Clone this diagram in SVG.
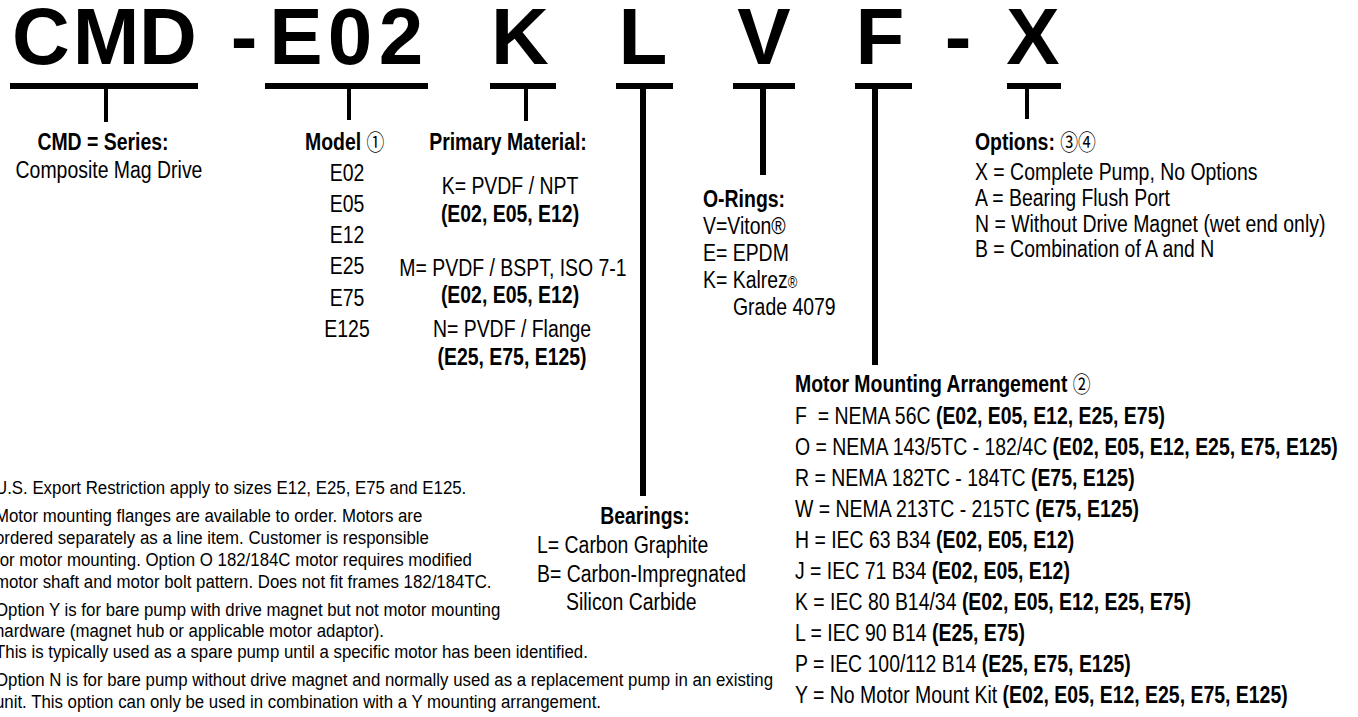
<svg xmlns="http://www.w3.org/2000/svg" width="1358" height="717" viewBox="0 0 1358 717">
<style>
.hdr{font-family:"Liberation Sans",Arial,sans-serif;font-weight:bold;font-size:80px;text-anchor:middle;fill:#000}
.t{font-family:"Liberation Sans",Arial,sans-serif;font-size:24px;fill:#000}
.b{font-weight:bold}
.m{text-anchor:middle}
.n{font-family:"Liberation Sans",Arial,sans-serif;font-size:19px;fill:#000}
.c{font-family:"Noto Sans CJK JP","DejaVu Sans",sans-serif;font-weight:normal;font-size:22px}
.r{font-size:16px}
.bar{fill:#000}
</style>
<rect width="1358" height="717" fill="#fff"/>

<g id="connectors" class="bar">
  <rect x="10" y="83" width="188" height="6"/>
  <rect x="104" y="88" width="4" height="34"/>
  <rect x="265" y="83" width="163" height="6"/>
  <rect x="347" y="88" width="4" height="32"/>
  <rect x="490" y="83" width="66" height="6"/>
  <rect x="524" y="88" width="4" height="33"/>
  <rect x="616" y="83" width="57" height="6"/>
  <rect x="640" y="88" width="6" height="408"/>
  <rect x="733" y="83" width="62" height="6"/>
  <rect x="760" y="88" width="6" height="87"/>
  <rect x="855" y="83" width="57" height="6"/>
  <rect x="872" y="88" width="6" height="277"/>
  <rect x="1007" y="83" width="54" height="6"/>
  <rect x="1025" y="88" width="4" height="31"/>
</g>

<g id="seg-series">
  <text class="hdr" x="41 106 168" y="64">CMD</text>
  <text class="t b m" transform="translate(103,150) scale(0.81,1)">CMD = Series:</text>
  <text class="t m" transform="translate(109,178) scale(0.81,1)">Composite Mag Drive</text>
</g>

<g id="seg-model">
  <text class="hdr" x="244 296 350 401" y="64">-E02</text>
  <text class="t" transform="translate(305,150) scale(0.81,1)"><tspan class="b">Model </tspan><tspan class="c">①</tspan></text>
  <text class="t m" transform="translate(347,181) scale(0.81,1)">E02</text>
  <text class="t m" transform="translate(347,212) scale(0.81,1)">E05</text>
  <text class="t m" transform="translate(347,243) scale(0.81,1)">E12</text>
  <text class="t m" transform="translate(347,274) scale(0.81,1)">E25</text>
  <text class="t m" transform="translate(347,306) scale(0.81,1)">E75</text>
  <text class="t m" transform="translate(347,337) scale(0.81,1)">E125</text>
</g>

<g id="seg-material">
  <text class="hdr" x="520" y="64">K</text>
  <text class="t b m" transform="translate(508,150) scale(0.81,1)">Primary Material:</text>
  <text class="t m" transform="translate(510,194) scale(0.81,1)">K= PVDF / NPT</text>
  <text class="t b m" transform="translate(510,222) scale(0.81,1)">(E02, E05, E12)</text>
  <text class="t m" transform="translate(513,276) scale(0.81,1)">M= PVDF / BSPT, ISO 7-1</text>
  <text class="t b m" transform="translate(510,303) scale(0.81,1)">(E02, E05, E12)</text>
  <text class="t m" transform="translate(512,337) scale(0.81,1)">N= PVDF / Flange</text>
  <text class="t b m" transform="translate(512,365) scale(0.81,1)">(E25, E75, E125)</text>
</g>

<g id="seg-bearings">
  <text class="hdr" x="643" y="64">L</text>
  <text class="t b m" transform="translate(645,524) scale(0.81,1)">Bearings:</text>
  <text class="t" transform="translate(537,553) scale(0.81,1)">L= Carbon Graphite</text>
  <text class="t" transform="translate(537,582) scale(0.81,1)">B= Carbon-Impregnated</text>
  <text class="t" transform="translate(566,610) scale(0.81,1)">Silicon Carbide</text>
</g>

<g id="seg-orings">
  <text class="hdr" x="764" y="64">V</text>
  <text class="t b" transform="translate(703,207) scale(0.81,1)">O-Rings:</text>
  <text class="t" transform="translate(703,234) scale(0.81,1)">V=Viton®</text>
  <text class="t" transform="translate(703,261) scale(0.81,1)">E= EPDM</text>
  <text class="t" transform="translate(703,288) scale(0.81,1)">K= Kalrez<tspan class="r">®</tspan></text>
  <text class="t" transform="translate(733,315) scale(0.81,1)">Grade 4079</text>
</g>

<g id="seg-motor">
  <text class="hdr" x="880" y="64">F</text>
  <text class="t" transform="translate(795,392) scale(0.81,1)"><tspan class="b">Motor Mounting Arrangement </tspan><tspan class="c">②</tspan></text>
  <text class="t" xml:space="preserve" transform="translate(795,424) scale(0.81,1)">F  = NEMA 56C <tspan class="b">(E02, E05, E12, E25, E75)</tspan></text>
  <text class="t" transform="translate(795,455) scale(0.81,1)">O = NEMA 143/5TC - 182/4C <tspan class="b">(E02, E05, E12, E25, E75, E125)</tspan></text>
  <text class="t" transform="translate(795,486) scale(0.81,1)">R = NEMA 182TC - 184TC <tspan class="b">(E75, E125)</tspan></text>
  <text class="t" transform="translate(795,517) scale(0.81,1)">W = NEMA 213TC - 215TC <tspan class="b">(E75, E125)</tspan></text>
  <text class="t" transform="translate(795,548) scale(0.81,1)">H = IEC 63 B34 <tspan class="b">(E02, E05, E12)</tspan></text>
  <text class="t" transform="translate(795,579) scale(0.81,1)">J = IEC 71 B34 <tspan class="b">(E02, E05, E12)</tspan></text>
  <text class="t" transform="translate(795,610) scale(0.81,1)">K = IEC 80 B14/34 <tspan class="b">(E02, E05, E12, E25, E75)</tspan></text>
  <text class="t" transform="translate(795,641) scale(0.81,1)">L = IEC 90 B14 <tspan class="b">(E25, E75)</tspan></text>
  <text class="t" transform="translate(795,672) scale(0.81,1)">P = IEC 100/112 B14 <tspan class="b">(E25, E75, E125)</tspan></text>
  <text class="t" transform="translate(795,703) scale(0.81,1)">Y = No Motor Mount Kit <tspan class="b">(E02, E05, E12, E25, E75, E125)</tspan></text>
</g>

<g id="seg-options">
  <text class="hdr" x="958 1033" y="64">-X</text>
  <text class="t" transform="translate(975,150) scale(0.81,1)"><tspan class="b">Options: </tspan><tspan class="c">③④</tspan></text>
  <text class="t" transform="translate(975,180) scale(0.81,1)">X = Complete Pump, No Options</text>
  <text class="t" transform="translate(975,206) scale(0.81,1)">A = Bearing Flush Port</text>
  <text class="t" transform="translate(975,232) scale(0.81,1)">N = Without Drive Magnet (wet end only)</text>
  <text class="t" transform="translate(975,257) scale(0.81,1)">B = Combination of A and N</text>
</g>

<g id="notes">
  <text class="n" transform="translate(-5,494) scale(0.886,1)">U.S. Export Restriction apply to sizes E12, E25, E75 and E125.</text>
  <text class="n" transform="translate(-5,522) scale(0.886,1)">Motor mounting flanges are available to order. Motors are</text>
  <text class="n" transform="translate(-5,544) scale(0.886,1)">ordered separately as a line item. Customer is responsible</text>
  <text class="n" transform="translate(-5,566) scale(0.886,1)">for motor mounting. Option O 182/184C motor requires modified</text>
  <text class="n" transform="translate(-5,588) scale(0.886,1)">motor shaft and motor bolt pattern. Does not fit frames 182/184TC.</text>
  <text class="n" transform="translate(-5,616) scale(0.886,1)">Option Y is for bare pump with drive magnet but not motor mounting</text>
  <text class="n" transform="translate(-5,637) scale(0.886,1)">hardware (magnet hub or applicable motor adaptor).</text>
  <text class="n" transform="translate(-5,658) scale(0.886,1)">This is typically used as a spare pump until a specific motor has been identified.</text>
  <text class="n" transform="translate(-5,686) scale(0.886,1)">Option N is for bare pump without drive magnet and normally used as a replacement pump in an existing</text>
  <text class="n" transform="translate(-5,708) scale(0.886,1)">unit. This option can only be used in combination with a Y mounting arrangement.</text>
</g>
</svg>
